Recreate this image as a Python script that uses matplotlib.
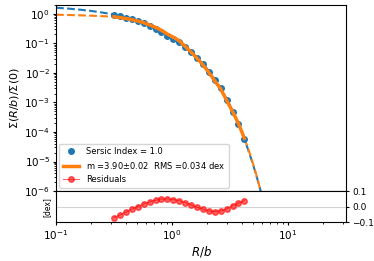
import numpy as np
import matplotlib
matplotlib.use("Agg")
import matplotlib.pyplot as plt

# measured profile (R/b, log10 Sigma/Sigma0)
r_data = [0.316, 0.356, 0.400, 0.450, 0.506, 0.569, 0.640, 0.720, 0.810, 0.911, 1.025, 1.153,
          1.297, 1.459, 1.641, 1.845, 2.076, 2.335, 2.626, 2.954, 3.323, 3.738, 4.204]
logS_data = [-0.027, -0.072, -0.124, -0.180, -0.245, -0.318, -0.405, -0.500, -0.605, -0.735, -0.835, -0.950,
             -1.125, -1.305, -1.500, -1.708, -1.958, -2.240, -2.510, -2.912, -3.310, -3.738, -4.252]

# fitted model evaluated on the data radii
logS_fit = [-0.098, -0.126, -0.160, -0.197, -0.245, -0.301, -0.375, -0.459, -0.557, -0.685, -0.790, -0.911,
            -1.099, -1.294, -1.504, -1.725, -1.986, -2.272, -2.538, -2.927, -3.305, -3.716, -4.213]

# residuals (fit - data) in dex
resid = [-0.071, -0.054, -0.036, -0.017, 0.000, 0.017, 0.030, 0.041, 0.048, 0.050, 0.045, 0.039,
         0.026, 0.011, -0.004, -0.017, -0.028, -0.032, -0.028, -0.015, 0.005, 0.022, 0.039]

# input sersic model over the full range
r_model = [0.1, 0.13, 0.16, 0.2, 0.25, 0.316, 0.4, 0.5, 0.63, 0.8, 1.0, 1.25, 1.5, 2.0, 2.5, 3.0,
           3.5, 4.0, 4.5, 5.0, 5.5, 6.0]
logS_model = [0.207, 0.175, 0.142, 0.099, 0.045, -0.027, -0.124, -0.240, -0.395, -0.590, -0.810, -1.070,
              -1.330, -1.855, -2.385, -2.920, -3.470, -4.010, -4.565, -5.110, -5.655, -6.200]

# fitted model extrapolated inside / outside the data range
r_fit_in = [0.1, 0.13, 0.16, 0.2, 0.25, 0.316]
logS_fit_in = [-0.030, -0.040, -0.050, -0.062, -0.078, -0.098]
r_fit_out = [4.204, 4.5, 4.8, 5.1, 5.4, 5.7, 6.0]
logS_fit_out = [-4.213, -4.530, -4.860, -5.190, -5.530, -5.880, -6.230]

fig = plt.figure(figsize=(3.74, 2.61), dpi=100)
ax = fig.add_axes([0.150, 0.268, 0.775, 0.713])
axr = fig.add_axes([0.150, 0.149, 0.775, 0.119], sharex=ax)

ax.plot(r_model, 10 ** np.array(logS_model), "--", color="#1f77b4", lw=1.5, zorder=1)
ax.plot(r_fit_in, 10 ** np.array(logS_fit_in), "--", color="#ff7f0e", lw=1.5, zorder=1)
ax.plot(r_fit_out, 10 ** np.array(logS_fit_out), "--", color="#ff7f0e", lw=1.5, zorder=1)
h1, = ax.plot(r_data, 10 ** np.array(logS_data), "o", color="#1f77b4", ms=4, zorder=2,
              label="Sersic Index = 1.0")
h2, = ax.plot(r_data, 10 ** np.array(logS_fit), "-", color="#ff7f0e", lw=2.5, zorder=3,
              label="m =3.90$\\pm$0.02  RMS =0.034 dex")

ax.set_xscale("log")
ax.set_yscale("log")
ax.set_xlim(0.1, 31.6)
ax.set_ylim(1e-6, 2)
ax.set_ylabel("$\\Sigma(R/b)/\\Sigma(0)$", fontsize=8, labelpad=2)
ax.tick_params(labelsize=7.5, length=2.5, pad=2)
ax.tick_params(which="minor", length=1.5)
ax.tick_params(axis="x", labelbottom=False)

h3, = axr.plot(r_data, resid, "o-", color="red", alpha=0.6, ms=4, lw=0.8, label="Residuals")
axr.axhline(0, color="lightgray", lw=0.8, zorder=0)
axr.set_ylim(-0.1, 0.1)
axr.set_yticks([-0.1, 0.0, 0.1])
axr.yaxis.tick_right()
axr.tick_params(axis="y", labelsize=6.5, length=2.5, pad=2)
axr.tick_params(axis="x", labelsize=7.5, length=2.5, pad=2)
axr.tick_params(which="minor", length=1.5)
axr.set_ylabel("[dex]", fontsize=5.5, labelpad=3)
axr.set_xlabel("$R/b$", fontsize=8.5, labelpad=1)

ax.legend(handles=[h1, h2, h3], loc="lower left", fontsize=6, borderaxespad=0.4)

fig.savefig("out.png", dpi=100)
